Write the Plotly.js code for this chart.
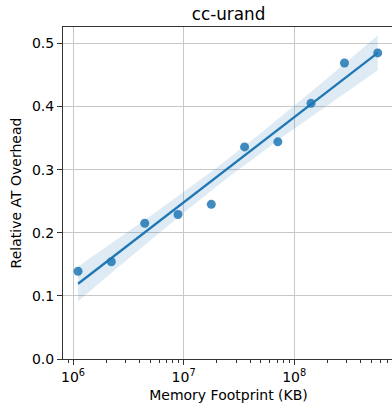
<!DOCTYPE html>
<html><head><meta charset="utf-8">
<script src="https://cdn.plot.ly/plotly-3.0.1.min.js"></script>
<style>html,body{margin:0;padding:0;overflow:hidden;background:#fff;}</style>
</head><body><div id="chart"></div>
<script>
const footprintKB = [1.11e6, 2.22e6, 4.45e6, 8.9e6, 1.78e7, 3.56e7, 7.12e7, 1.42e8, 2.85e8, 5.7e8];
const overhead = [0.139, 0.154, 0.215, 0.229, 0.245, 0.336, 0.344, 0.405, 0.469, 0.485];
const xTickVals = [1e6, 1e7, 1e8];
const xTickText = ['10<sup>6</sup>', '10<sup>7</sup>', '10<sup>8</sup>'];
const yTickVals = [0, 0.1, 0.2, 0.3, 0.4, 0.5];

// linear fit of overhead vs log10(footprint), with 95% confidence band
const lx = footprintKB.map(v => Math.log10(v));
const n = lx.length;
const mx = lx.reduce((a,b)=>a+b,0)/n;
const my = overhead.reduce((a,b)=>a+b,0)/n;
let sxx=0, sxy=0;
for (let i=0;i<n;i++){ sxx += (lx[i]-mx)**2; sxy += (lx[i]-mx)*(overhead[i]-my); }
const slope = sxy/sxx, icpt = my - slope*mx;
let sse=0; for (let i=0;i<n;i++){ sse += (overhead[i]-(icpt+slope*lx[i]))**2; }
const s = Math.sqrt(sse/(n-2));
const tval = 2.306;
const gridX=[], fitY=[], lo=[], hi=[];
const g0 = lx[0], g1 = lx[n-1];
for (let k=0;k<100;k++){
  const g = g0 + (g1-g0)*k/99;
  const yv = icpt + slope*g;
  const se = s*Math.sqrt(1/n + (g-mx)**2/sxx);
  gridX.push(Math.pow(10,g)); fitY.push(yv); lo.push(yv - tval*se); hi.push(yv + tval*se);
}
const minorVals=[];
for (let e=5;e<=8;e++){ for (let m=2;m<=9;m++){ minorVals.push(m*Math.pow(10,e)); } }

const blue = '#1f77b4';
const traces = [
  {x: gridX.concat(gridX.slice().reverse()), y: hi.concat(lo.slice().reverse()), type:'scatter', mode:'lines',
   fill:'toself', fillcolor:'rgba(31,119,180,0.15)', line:{width:0}, hoverinfo:'skip', showlegend:false},
  {x: gridX, y: fitY, type:'scatter', mode:'lines', line:{color:blue, width:2.3}, showlegend:false},
  {x: footprintKB, y: overhead, type:'scatter', mode:'markers',
   marker:{color:blue, opacity:0.85, size:9}, showlegend:false}
];
const font = {family:'DejaVu Sans, sans-serif', color:'#000'};
const layout = {
  width: 396, height: 409,
  margin: {l:63, r:2, t:27, b:50},
  paper_bgcolor:'#fff', plot_bgcolor:'#fff',
  font: Object.assign({size:14}, font),
  title: {text:'cc-urand', font:Object.assign({size:16.8}, font), x:0.5, xref:'paper', y:1-14/409, yref:'container', yanchor:'middle'},
  xaxis: {type:'log', range:[5.909, 8.903], tickvals:xTickVals, ticktext:xTickText,
    showgrid:true, gridcolor:'#c8c8c8', gridwidth:1, zeroline:false,
    showline:true, linecolor:'#333', linewidth:1, mirror:true,
    ticks:'outside', ticklen:5, tickcolor:'#333', tickfont:Object.assign({size:14}, font),
    minor:{tickvals:minorVals, ticks:'outside', ticklen:3, tickcolor:'#333', showgrid:false},
    title:{text:'Memory Footprint (KB)', font:Object.assign({size:14}, font), standoff:6}},
  yaxis: {range:[0, 0.526], tickvals:yTickVals, tickformat:'.1f',
    showgrid:true, gridcolor:'#c8c8c8', gridwidth:1, zeroline:false,
    showline:true, linecolor:'#333', linewidth:1, mirror:true,
    ticks:'outside', ticklen:5, tickcolor:'#333', tickfont:Object.assign({size:14}, font),
    title:{text:'Relative AT Overhead', font:Object.assign({size:14}, font), standoff:7}}
};
Plotly.newPlot('chart', traces, layout, {displayModeBar:false, staticPlot:true});
</script></body></html>
